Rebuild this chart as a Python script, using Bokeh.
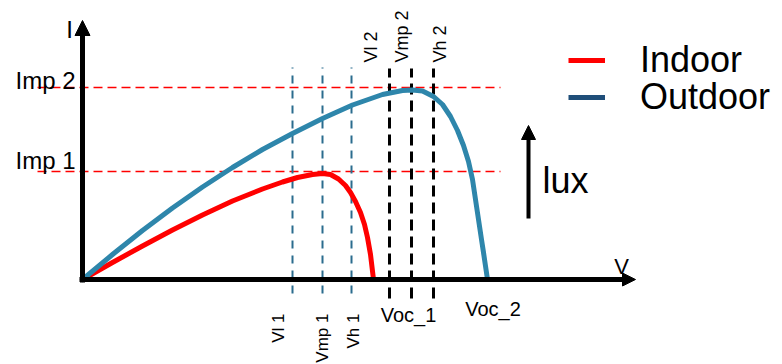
import math
from bokeh.plotting import figure
from bokeh.models import Range1d, Arrow, NormalHead, Legend, LegendItem
from bokeh.core.properties import value
from bokeh.embed import file_html
from bokeh.resources import INLINE

# ---------------- data (arbitrary units) ----------------
indoor_v = [0, 30, 60, 90, 120, 150, 180, 200, 215, 230, 240, 248, 256, 263, 268, 273, 278, 282, 285, 288, 291]
indoor_i = [0, 17, 33.5, 49.5, 64.5, 78.5, 90.5, 97.5, 102, 105, 106, 105, 100.5, 94, 87, 78, 67, 55, 42, 25, 0]

outdoor_v = [0, 30, 60, 90, 120, 150, 180, 210, 240, 270, 300, 320, 330, 340, 351, 360, 368, 375, 381,
             386, 390, 393, 396, 399, 401, 403, 405]
outdoor_i = [0, 25, 49, 71.5, 92.5, 112, 130, 146, 161, 174.5, 185, 189, 189.5, 188.5, 183, 175, 163, 149, 134,
             118, 100, 80, 60, 40, 27, 13.5, 0]

indoor_marks = [210, 240, 269]          # Vl 1, Vmp 1, Vh 1
indoor_mark_labels = ["Vl 1", "Vmp 1", "Vh 1"]
outdoor_marks = [307, 329, 351]         # Vl 2, Vmp 2, Vh 2
outdoor_mark_labels = ["Vl 2", "Vmp 2", "Vh 2"]

imp_values = [108, 192]
imp_labels = ["Imp 1", "Imp 2"]

voc_values = [291, 405]
voc_labels = ["Voc_1", "Voc_2"]

series_names = ["Indoor", "Outdoor"]

# ---------------- styling / layout ----------------
FONT_NAME = "Liberation Sans"
FONT = value(FONT_NAME)
RED = "#ff0000"
BLUE = "#2e86ab"
DARK_BLUE = "#1f4e79"
VBLUE = "#2b6c8e"
NAN = float("nan")

p = figure(width=782, height=364, x_range=Range1d(-82, 700), y_range=Range1d(-85, 279),
           output_backend="svg", toolbar_location=None,
           x_axis_location=None, y_axis_location=None, min_border=0)
p.grid.visible = False
p.outline_line_color = None
p.background_fill_color = "white"

# horizontal Imp guides
for imp in imp_values:
    p.line([-45, 418], [imp, imp], line_color=RED, line_width=1.5, line_dash="9 5")

# vertical guides
for v in indoor_marks:
    p.line([v, v], [-14, 212], line_color=VBLUE, line_width=2, line_dash="8 7")
for v in outdoor_marks:
    p.line([v, v], [-19, 211], line_color="black", line_width=3, line_dash="11 6")

# axes as arrows
p.add_layout(Arrow(x_start=0, y_start=-3, x_end=0, y_end=259, line_width=5,
                   line_color="black",
                   end=NormalHead(size=15, fill_color="black", line_color="black", line_width=1)))
p.add_layout(Arrow(x_start=-3, y_start=0, x_end=553, y_end=0, line_width=5,
                   line_color="black",
                   end=NormalHead(size=13, fill_color="black", line_color="black", line_width=1)))

# curves
r_in = p.line(indoor_v, indoor_i, line_color=RED, line_width=5, line_join="round", line_cap="round")
r_out = p.line(outdoor_v, outdoor_i, line_color=BLUE, line_width=5, line_join="round", line_cap="round")

# axis names
p.text(x=[-13], y=[250], text=["I"], text_font=FONT, text_font_size="24px",
       text_align="center", text_baseline="middle", text_color="black")
p.text(x=[539], y=[13.5], text=["V"], text_font=FONT, text_font_size="22px",
       text_align="center", text_baseline="middle", text_color="black")

# Imp labels
imp_label_dy = [11, 7]
p.text(x=[-67, -67], y=[imp_values[k] + imp_label_dy[k] for k in range(2)], text=imp_labels,
       text_font=FONT, text_font_size="24px", text_align="left", text_baseline="middle",
       text_color="black")

# vertical labels (outdoor, above)
top_dx = [-19, -9.5, 6.5]
p.text(x=[outdoor_marks[k] + top_dx[k] for k in range(3)], y=[217] * 3, text=outdoor_mark_labels,
       angle=math.pi / 2, text_font=FONT, text_font_size="18px", text_align="left",
       text_baseline="middle", text_color="black")

# vertical labels (indoor, below)
bot_dx = [-14, 0, 1.5]
p.text(x=[indoor_marks[k] + bot_dx[k] for k in range(3)], y=[-34] * 3, text=indoor_mark_labels,
       angle=math.pi / 2, text_font=FONT, text_font_size="17px", text_align="right",
       text_baseline="middle", text_color="black")

# Voc labels
voc_dx = [35, 5.5]
voc_y = [-35.5, -29]
p.text(x=[voc_values[k] + voc_dx[k] for k in range(2)], y=voc_y, text=voc_labels,
       text_font=FONT, text_font_size="20px", text_align="center", text_baseline="middle",
       text_color="black")

# lux arrow + label
p.add_layout(Arrow(x_start=446, y_start=61, x_end=446, y_end=154, line_width=4, line_color="black",
                   end=NormalHead(size=14, fill_color="black", line_color="black", line_width=1)))
p.text(x=[460], y=[99.5], text=["lux"], text_font=FONT, text_font_size="36px",
       text_align="left", text_baseline="middle", text_color="black")

# legend (swatches use their own colours; renderers hold no visible data)
sw_in = p.line([NAN], [NAN], line_color=RED, line_width=5)
sw_out = p.line([NAN], [NAN], line_color=DARK_BLUE, line_width=5)
legend_style = dict(orientation="vertical", glyph_width=37, glyph_height=20, label_standoff=35,
                    spacing=0, padding=0, margin=0, border_line_color=None, background_fill_alpha=0,
                    label_text_font=FONT_NAME, label_text_font_size="36px", label_text_color="black")
legend_in = Legend(items=[LegendItem(label=series_names[0], renderers=[sw_in])],
                   location=(568, 283), **legend_style)
legend_out = Legend(items=[LegendItem(label=series_names[1], renderers=[sw_out])],
                    location=(568, 246), **legend_style)
p.add_layout(legend_in)
p.add_layout(legend_out)

open("out.html", "w").write(file_html(p, INLINE))
